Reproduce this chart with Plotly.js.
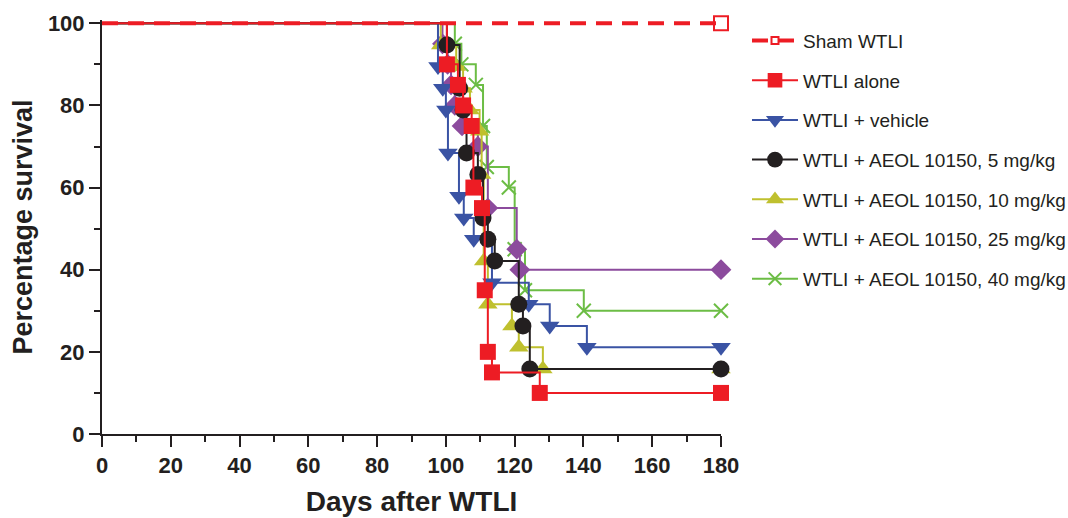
<!DOCTYPE html>
<html>
<head>
<meta charset="utf-8">
<script src="https://cdn.plot.ly/plotly-3.0.1.min.js"></script>
<style>
  html, body { margin: 0; padding: 0; background: #ffffff; }
  #chart { width: 1068px; height: 518px; }
</style>
</head>
<body>
<div id="chart"></div>
<script>
// Series names
const seriesNames = [
  "Sham WTLI",
  "WTLI alone",
  "WTLI + vehicle",
  "WTLI + AEOL 10150, 5 mg/kg",
  "WTLI + AEOL 10150, 10 mg/kg",
  "WTLI + AEOL 10150, 25 mg/kg",
  "WTLI + AEOL 10150, 40 mg/kg"
];

// Kaplan-Meier steps (day of event, percentage surviving after it); last point = end of follow-up
const shamDays = [0, 180];
const shamPct = [100, 100];

const aloneDays = [0, 100.3, 103.5, 105, 107.5, 108, 110.5, 111.3, 112.2, 113.4, 127.3, 180];
const alonePct  = [100, 90, 85, 80, 75, 60, 55, 35, 20, 15, 10, 10];

const vehicleDays = [0, 97.7, 99.1, 100, 100.6, 103.8, 105.2, 108.1, 113.4, 124.1, 130.2, 141, 180];
const vehiclePct  = [100, 89.5, 84.2, 78.9, 68.4, 57.9, 52.6, 47.4, 36.8, 31.6, 26.3, 21.1, 21.1];

const dose5Days = [0, 100.3, 104, 105, 106, 109.3, 110.8, 112.2, 114.2, 121.2, 122.4, 124.4, 180];
const dose5Pct  = [100, 94.7, 84.2, 78.9, 68.4, 63.2, 52.6, 47.4, 42.1, 31.6, 26.3, 15.8, 15.8];

const dose10Days = [0, 98.5, 103, 105, 107, 109.8, 110.4, 111, 112.2, 119.2, 121.2, 128.2, 180];
const dose10Pct  = [100, 94.7, 89.5, 84.2, 78.9, 73.7, 63.2, 42.1, 31.6, 26.3, 21.1, 15.8, 15.8];

const dose25Days = [0, 99, 100.5, 101.5, 102.6, 104.7, 109.3, 112.2, 120.6, 121.5, 180];
const dose25Pct  = [100, 95, 90, 85, 80, 75, 70, 55, 45, 40, 40];

const dose40Days = [0, 102.6, 104.5, 108.7, 110.8, 111.9, 118.3, 120, 123, 140.1, 180];
const dose40Pct  = [100, 95, 90, 85, 75, 65, 60, 45, 35, 30, 30];

// Tick labels
const xTicks = [0, 20, 40, 60, 80, 100, 120, 140, 160, 180];
const yTicks = [0, 20, 40, 60, 80, 100];

const INK = "#231f20";
const FONT = "'Liberation Sans', Arial, Helvetica, sans-serif";

function sizes(n, s) {
  const a = new Array(n).fill(s);
  a[0] = 0;
  return a;
}

function kmTrace(name, xs, ys, color, symbol, size, rank, extraMarker) {
  const marker = Object.assign({
    symbol: symbol,
    size: sizes(xs.length, size),
    color: color,
    opacity: 1,
    line: { width: 0 }
  }, extraMarker || {});
  return {
    type: "scatter",
    mode: "lines+markers",
    name: name,
    x: xs,
    y: ys,
    line: { shape: "hv", color: color, width: 2 },
    marker: marker,
    cliponaxis: false,
    legendrank: rank,
    legendgroup: "g" + rank
  };
}

const traces = [
  kmTrace(seriesNames[6], dose40Days, dose40Pct, "#6cbd45", "x-thin-open", 14, 7,
          { line: { width: 2, color: "#6cbd45" } }),
  kmTrace(seriesNames[5], dose25Days, dose25Pct, "#8c4b9d", "diamond", 16, 6),
  kmTrace(seriesNames[4], dose10Days, dose10Pct, "#bfc02e", "triangle-up", 17, 5),
  kmTrace(seriesNames[2], vehicleDays, vehiclePct, "#3a53a4", "triangle-down", 17, 3),
  kmTrace(seriesNames[3], dose5Days, dose5Pct, INK, "circle", 17, 4),
  kmTrace(seriesNames[1], aloneDays, alonePct, "#ed1c24", "square", 16, 2),
  {
    type: "scatter",
    mode: "lines+markers",
    name: seriesNames[0],
    x: shamDays,
    y: shamPct,
    line: { color: "#ed1c24", width: 4, dash: "16px,10px" },
    marker: { symbol: "square-open", size: [0, 14], opacity: 1, color: "#ed1c24", line: { width: 2, color: "#ed1c24" } },
    cliponaxis: false,
    legendrank: 1,
    legendgroup: "g1"
  }
];

const layout = {
  width: 1068,
  height: 518,
  margin: { l: 102, r: 347, t: 20, b: 84, autoexpand: false },
  paper_bgcolor: "#ffffff",
  plot_bgcolor: "#ffffff",
  font: { family: FONT, color: INK },
  showlegend: true,
  legend: {
    x: 1.042, xanchor: "left",
    y: 0.996, yanchor: "top",
    font: { family: FONT, size: 19, color: INK },
    traceorder: "grouped",
    tracegroupgap: 12,
    itemwidth: 46,
    bgcolor: "rgba(0,0,0,0)"
  },
  xaxis: {
    range: [0, 180],
    tickvals: xTicks,
    ticktext: xTicks.map(String),
    ticks: "outside",
    ticklen: 11,
    tickwidth: 2,
    tickcolor: INK,
    minor: { dtick: 10, ticks: "outside", ticklen: 6, tickwidth: 2, tickcolor: INK },
    showline: true,
    linecolor: INK,
    linewidth: 2,
    showgrid: false,
    zeroline: false,
    tickfont: { family: FONT, size: 22, weight: "bold", color: INK },
    title: { text: "Days after WTLI", font: { family: FONT, size: 28, weight: "bold", color: INK }, standoff: 14 }
  },
  yaxis: {
    range: [0, 100.8],
    tickvals: yTicks,
    ticktext: yTicks.map(String),
    ticks: "outside",
    ticklen: 11,
    tickwidth: 2,
    tickcolor: INK,
    minor: { tickvals: [10, 30, 50, 70, 90], ticks: "outside", ticklen: 6, tickwidth: 2, tickcolor: INK },
    showline: true,
    linecolor: INK,
    linewidth: 2,
    showgrid: false,
    zeroline: false,
    tickfont: { family: FONT, size: 22, weight: "bold", color: INK },
    title: { text: "Percentage survival", font: { family: FONT, size: 27, weight: "bold", color: INK }, standoff: 7 }
  }
};

Plotly.newPlot("chart", traces, layout, { displayModeBar: false, staticPlot: true });
</script>
</body>
</html>
